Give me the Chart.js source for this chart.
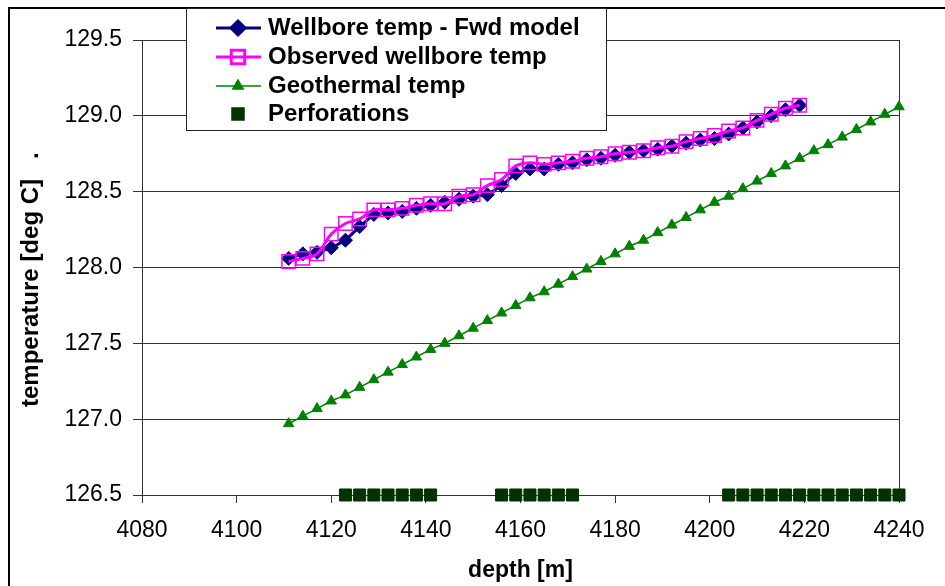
<!DOCTYPE html>
<html>
<head>
<meta charset="utf-8">
<script src="https://cdn.jsdelivr.net/npm/chart.js@4.4.1/dist/chart.umd.min.js"></script>
<style>
  html, body { margin: 0; padding: 0; background: #fff; }
  #wrap { width: 945px; height: 586px; position: relative; }
</style>
</head>
<body>
<div id="wrap"><canvas id="myChart"></canvas></div>
<script>
// depths [m] and temperatures [deg C]
const wellDepth = [4111, 4114, 4117, 4120, 4123, 4126, 4129, 4132, 4135, 4138, 4141, 4144, 4147,
  4150, 4153, 4156, 4159, 4162, 4165, 4168, 4171, 4174, 4177, 4180, 4183, 4186, 4189, 4192,
  4195, 4198, 4201, 4204, 4207, 4210, 4213, 4216, 4219]
const modelTemp = [128.06, 128.09, 128.10, 128.13, 128.18, 128.27, 128.35, 128.36, 128.37, 128.39,
  128.41, 128.43, 128.45, 128.47, 128.48, 128.54, 128.62, 128.65, 128.65, 128.68, 128.69, 128.71,
  128.72, 128.74, 128.76, 128.77, 128.78, 128.80, 128.82, 128.84, 128.85, 128.88, 128.92, 128.96,
  129.00, 129.04, 129.07]
const observedTemp = [128.04, 128.06, 128.09, 128.22, 128.29, 128.32, 128.38, 128.38, 128.39, 128.41,
  128.42, 128.42, 128.47, 128.48, 128.54, 128.58, 128.67, 128.69, 128.68, 128.69, 128.70, 128.72,
  128.73, 128.75, 128.76, 128.77, 128.79, 128.80, 128.83, 128.85, 128.87, 128.90, 128.92, 128.97,
  129.01, 129.05, 129.07]

const geoDepth = [4111, 4114, 4117, 4120, 4123, 4126, 4129, 4132, 4135, 4138, 4141, 4144, 4147, 4150,
  4153, 4156, 4159, 4162, 4165, 4168, 4171, 4174, 4177, 4180, 4183, 4186, 4189, 4192, 4195, 4198,
  4201, 4204, 4207, 4210, 4213, 4216, 4219, 4222, 4225, 4228, 4231, 4234, 4237, 4240]
const geoTemp = [126.97, 127.02, 127.07, 127.12, 127.16, 127.21, 127.26, 127.31, 127.36, 127.41,
  127.46, 127.50, 127.55, 127.60, 127.65, 127.70, 127.75, 127.80, 127.84, 127.89, 127.94, 127.99,
  128.04, 128.09, 128.14, 128.18, 128.23, 128.28, 128.33, 128.38, 128.43, 128.47, 128.52, 128.57,
  128.62, 128.67, 128.72, 128.77, 128.81, 128.86, 128.91, 128.96, 129.01, 129.06]

const perfDepth = [4123, 4126, 4129, 4132, 4135, 4138, 4141,
  4156, 4159, 4162, 4165, 4168, 4171,
  4204, 4207, 4210, 4213, 4216, 4219, 4222, 4225, 4228, 4231, 4234, 4237, 4240]
const perfTemp = [126.5, 126.5, 126.5, 126.5, 126.5, 126.5, 126.5,
  126.5, 126.5, 126.5, 126.5, 126.5, 126.5,
  126.5, 126.5, 126.5, 126.5, 126.5, 126.5, 126.5, 126.5, 126.5, 126.5, 126.5, 126.5, 126.5]

const seriesNames = ['Wellbore temp - Fwd model', 'Observed wellbore temp', 'Geothermal temp', 'Perforations']
const xTitle = 'depth [m]'
const yTitle = 'temperature [deg C]   .'

const FONT = '"Liberation Sans", Arial, sans-serif'
const toPoints = (xs, ys) => xs.map((x, i) => ({ x: x, y: ys[i] }))

// frame, rotated y title and the boxed legend (drawn on top of the plot)
const extras = {
  id: 'extras',
  afterDraw(chart) {
    const c = chart.ctx
    c.save()
    c.strokeStyle = '#000'
    c.lineWidth = 2
    c.beginPath()
    c.moveTo(9, 586); c.lineTo(9, 8); c.lineTo(945, 8)
    c.stroke()

    c.save()
    c.font = 'bold 24px ' + FONT
    c.fillStyle = '#000'
    c.translate(31, 407)
    c.rotate(-Math.PI / 2)
    c.textAlign = 'left'
    c.textBaseline = 'middle'
    c.fillText(yTitle, 0, 0)
    c.restore()

    // legend box
    c.fillStyle = '#fff'
    c.fillRect(186, 8, 420, 122)
    c.strokeStyle = '#222'
    c.lineWidth = 1
    c.strokeRect(186.5, 8.5, 420, 122)

    const rows = [28, 57, 86, 114]
    chart.data.datasets.forEach((ds, i) => {
      const y = rows[i]
      if (ds.showLine) {
        c.strokeStyle = ds.borderColor
        c.lineWidth = ds.borderWidth
        c.beginPath(); c.moveTo(216, y); c.lineTo(261, y); c.stroke()
      }
      c.fillStyle = ds.pointBackgroundColor
      c.strokeStyle = ds.pointBorderColor
      Chart.helpers.drawPoint(c, {
        pointStyle: ds.pointStyle, radius: ds.pointRadius, rotation: 0,
        borderWidth: ds.pointBorderWidth
      }, 238, y)
      c.fillStyle = '#000'
      c.font = 'bold 24px ' + FONT
      c.textAlign = 'left'
      c.textBaseline = 'middle'
      c.fillText(ds.label, 268, y)
    })
    c.restore()
  }
}

let ctx = document.getElementById('myChart').getContext('2d')

let myChart = new Chart(ctx, {
  type: 'scatter',
  data: {
    datasets: [
      {
        label: seriesNames[0],
        data: toPoints(wellDepth, modelTemp),
        showLine: true,
        borderColor: '#000080',
        borderWidth: 3,
        pointStyle: 'rectRot',
        pointRadius: 7,
        pointBorderWidth: 1,
        pointBackgroundColor: '#000080',
        pointBorderColor: '#000080',
        order: 4,
        clip: false
      },
      {
        label: seriesNames[1],
        data: toPoints(wellDepth, observedTemp),
        showLine: true,
        tension: 0.4,
        borderColor: '#ff00ff',
        borderWidth: 3,
        pointStyle: 'rect',
        pointRadius: 9.5,
        pointBorderWidth: 1.5,
        pointBackgroundColor: 'rgba(0,0,0,0)',
        pointBorderColor: '#ff00ff',
        order: 3,
        clip: false
      },
      {
        label: seriesNames[2],
        data: toPoints(geoDepth, geoTemp),
        showLine: true,
        borderColor: '#008000',
        borderWidth: 1.5,
        pointStyle: 'triangle',
        pointRadius: 6,
        pointBorderWidth: 1,
        pointBackgroundColor: '#008000',
        pointBorderColor: '#008000',
        order: 2,
        clip: false
      },
      {
        label: seriesNames[3],
        data: toPoints(perfDepth, perfTemp),
        showLine: false,
        pointStyle: 'rect',
        pointRadius: 8.5,
        pointBorderWidth: 1,
        pointBackgroundColor: '#003300',
        pointBorderColor: '#003300',
        order: 1,
        clip: false
      }
    ]
  },
  options: {
    responsive: true,
    maintainAspectRatio: false,
    animation: false,
    layout: { padding: { left: 0, top: 40, right: 46, bottom: 0 } },
    plugins: {
      legend: { display: false },
      tooltip: { enabled: false }
    },
    scales: {
      x: {
        type: 'linear',
        min: 4080,
        max: 4240,
        ticks: {
          stepSize: 20, color: '#000', padding: 14,
          font: { family: FONT, size: 23 },
          callback: (v) => String(v)
        },
        grid: {
          drawOnChartArea: true,
          color: (c) => (c.tick && c.tick.value === 4240 ? '#333' : 'rgba(0,0,0,0)'),
          tickColor: '#333',
          tickLength: 8
        },
        border: { display: true, color: '#333' },
        title: {
          display: true, text: xTitle, color: '#000',
          font: { family: FONT, size: 23, weight: 'bold' },
          padding: { top: 0, bottom: 2 }
        },
        afterFit: (scale) => { scale.height = 91 }
      },
      y: {
        min: 126.5,
        max: 129.5,
        ticks: {
          stepSize: 0.5, color: '#000', padding: 11,
          font: { family: FONT, size: 23 },
          callback: (v) => v.toFixed(1)
        },
        grid: { color: '#333', tickColor: '#333', tickLength: 9 },
        border: { display: true, color: '#333' },
        afterFit: (scale) => { scale.width = 142 }
      }
    }
  },
  plugins: [extras]
})
</script>
</body>
</html>
